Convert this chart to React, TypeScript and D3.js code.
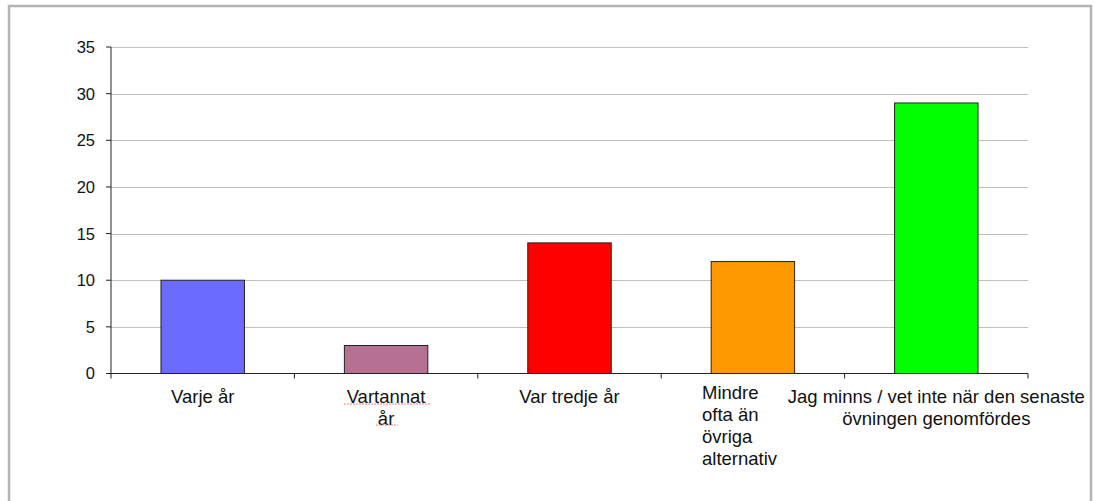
import React from 'react';
import * as d3 from 'd3';

// chart data
const categories = ['Varje år', 'Vartannat år', 'Var tredje år', 'Mindre ofta än övriga alternativ', 'Jag minns / vet inte när den senaste övningen genomfördes'];
const labelLines = [
  ['Varje år'],
  ['Vartannat', 'år'],
  ['Var tredje år'],
  ['Mindre', 'ofta än', 'övriga', 'alternativ'],
  ['Jag minns / vet inte när den senaste', 'övningen genomfördes'],
];
const values = [10, 3, 14, 12, 29];
const barColors = ['#6b6bff', '#b57092', '#ff0000', '#ff9900', '#00ff00'];
const yTicks = [0, 5, 10, 15, 20, 25, 30, 35];

const W = 1094;
const H = 501;
const plot = { left: 111, right: 1028, top: 47, bottom: 373.5 };
const FONT = '"Liberation Sans", Arial, sans-serif';

export default function App() {
  const x = d3.scaleBand<string>()
    .domain(categories)
    .range([plot.left, plot.right])
    .paddingInner(0.545)
    .paddingOuter(0.2725);
  const xBand = d3.scaleBand<string>().domain(categories).range([plot.left, plot.right]);
  const y = d3.scaleLinear().domain([0, 35]).range([plot.bottom, plot.top]);

  const boundaries = d3.range(categories.length + 1).map(i => plot.left + i * xBand.bandwidth());

  return (
    <svg width={W} height={H} style={{ position: 'absolute', left: 0, top: 0, background: '#fff' }}>
      <rect x={9} y={6} width={1082} height={510} fill="#fff" stroke="#b3b3b3" strokeWidth={2.5} />

      {/* gridlines */}
      {yTicks.filter(t => t > 0).map(t => (
        <line key={'g' + t} x1={plot.left} x2={plot.right} y1={Math.round(y(t)) + 0.5} y2={Math.round(y(t)) + 0.5} stroke="#c0c0c0" strokeWidth={1} />
      ))}

      {/* bars */}
      {categories.map((c, i) => (
        <rect key={c} x={x(c)!} y={y(values[i])} width={x.bandwidth()} height={plot.bottom - y(values[i])}
          fill={barColors[i]} stroke="#222" strokeWidth={1} />
      ))}

      {/* y axis */}
      <line x1={plot.left} x2={plot.left} y1={plot.top} y2={plot.bottom} stroke="#222" strokeWidth={1} />
      {yTicks.map(t => (
        <g key={'y' + t}>
          <line x1={plot.left - 5} x2={plot.left} y1={y(t)} y2={y(t)} stroke="#222" strokeWidth={1} />
          <text x={95} y={y(t)} dy="0.36em" textAnchor="end" fontFamily={FONT} fontSize={16.5} fill="#111">{t}</text>
        </g>
      ))}

      {/* x axis */}
      <line x1={plot.left} x2={plot.right} y1={plot.bottom} y2={plot.bottom} stroke="#222" strokeWidth={1} />
      {boundaries.map((b, i) => (
        <line key={'xt' + i} x1={b} x2={b} y1={plot.bottom} y2={plot.bottom + 5} stroke="#222" strokeWidth={1} />
      ))}

      {/* category labels */}
      {categories.map((c, i) => {
        const cx = xBand(c)! + xBand.bandwidth() / 2;
        const lines = labelLines[i];
        const leftAligned = i === 3;
        const baseY = leftAligned ? 398.5 : 402.5;
        return (
          <text key={'l' + c} fontFamily={FONT} fontSize={18.5} fill="#111"
            textAnchor={leftAligned ? 'start' : 'middle'}>
            {lines.map((ln, j) => (
              <tspan key={j} x={leftAligned ? 702 : cx} y={baseY + j * 22}>{ln}</tspan>
            ))}
          </text>
        );
      })}

      {/* spell-check underlines */}
      <line x1={344} x2={431} y1={404} y2={404} stroke="#f08080" strokeWidth={1} strokeDasharray="2,1" />
      <line x1={376} x2={398} y1={425} y2={425} stroke="#f08080" strokeWidth={1} strokeDasharray="2,1" />
    </svg>
  );
}
